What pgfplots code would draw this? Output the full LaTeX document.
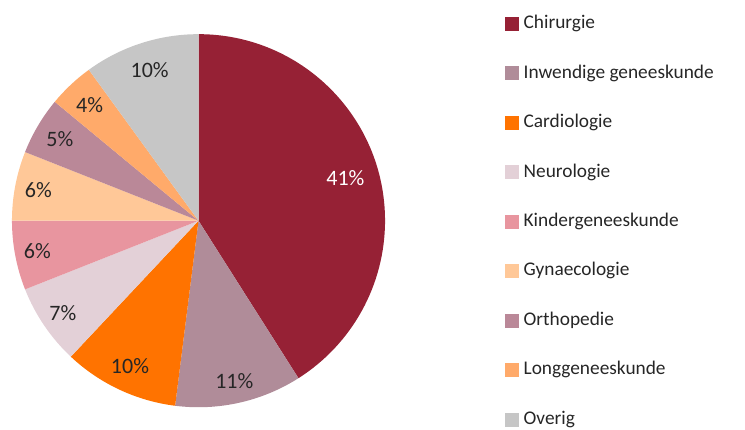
\documentclass[border=0pt]{standalone}
\usepackage{fontspec}
\setmainfont{Carlito}
\usepackage{pgfplots}
\pgfplotsset{compat=1.18}
\definecolor{cChir}{RGB}{150,33,53}
\definecolor{cInw}{RGB}{176,140,153}
\definecolor{cCard}{RGB}{255,115,0}
\definecolor{cNeur}{RGB}{227,208,215}
\definecolor{cKind}{RGB}{232,149,159}
\definecolor{cGyn}{RGB}{255,200,152}
\definecolor{cOrth}{RGB}{186,136,152}
\definecolor{cLong}{RGB}{255,170,106}
\definecolor{cOver}{RGB}{198,198,198}
\definecolor{txt}{RGB}{38,38,38}
% #1 colour, #2 cumulative start (%), #3 cumulative end (%), #4 label, #5 label colour, #6 label distance (px)
\newcommand{\slice}[6]{%
  \fill[#1] (axis cs:198.5,208.3) -- ++({90-3.6*#2}:139.9pt)
     arc[start angle={90-3.6*#2}, end angle={90-3.6*#3}, radius=139.9pt] -- cycle;
  \path (axis cs:198.5,208.3) -- ++({90-1.8*(#2+#3)}:{#6*0.75pt})
     node[text=#5, font=\fontsize{16.5}{18}\selectfont, inner sep=0pt] {#4};
}
\newcommand{\sq}[1]{\addlegendimage{legend image code/.code={\fill[#1,draw=none] (0pt,-5.25pt) rectangle (10.5pt,5.25pt); \path[draw=none,fill=none] (0pt,-1pt) rectangle (13.8pt,1pt);}}}
\begin{document}
\begin{tikzpicture}
\useasboundingbox (0,0) rectangle (558.75pt,321.75pt);
\begin{axis}[at={(0,0)}, anchor=south west, scale only axis,
  width=558.75pt, height=321.75pt,
  xmin=0, xmax=745, ymin=0, ymax=429, hide axis, clip=false,
  legend cell align=left,
  legend style={draw=none, fill=none, at={(axis cs:505,414)}, anchor=north west,
    font=\fontsize{14.5}{16}\selectfont, text=txt,
    row sep=24.1pt, inner sep=0pt,
    nodes={inner sep=0pt, text height=10pt, text depth=3pt}},
]
% shares (%): Chirurgie 41, Inwendige geneeskunde 11, Cardiologie 10, Neurologie 7,
% Kindergeneeskunde 6, Gynaecologie 6, Orthopedie 5, Longgeneeskunde 4, Overig 10
\slice{cChir}{0}{41}{41\%}{white}{153}
\slice{cInw}{41}{52}{11\%}{txt}{164}
\slice{cCard}{52}{62}{10\%}{txt}{161}
\slice{cNeur}{62}{69}{7\%}{txt}{164}
\slice{cKind}{69}{75}{6\%}{txt}{164}
\slice{cGyn}{75}{81}{6\%}{txt}{163}
\slice{cOrth}{81}{86}{5\%}{txt}{161}
\slice{cLong}{86}{90}{4\%}{txt}{159}
\slice{cOver}{90}{100}{10\%}{txt}{158}
\sq{cChir}\addlegendentry{Chirurgie}
\sq{cInw}\addlegendentry{Inwendige geneeskunde}
\sq{cCard}\addlegendentry{Cardiologie}
\sq{cNeur}\addlegendentry{Neurologie}
\sq{cKind}\addlegendentry{Kindergeneeskunde}
\sq{cGyn}\addlegendentry{Gynaecologie}
\sq{cOrth}\addlegendentry{Orthopedie}
\sq{cLong}\addlegendentry{Longgeneeskunde}
\sq{cOver}\addlegendentry{Overig}
\end{axis}
\end{tikzpicture}
\end{document}
